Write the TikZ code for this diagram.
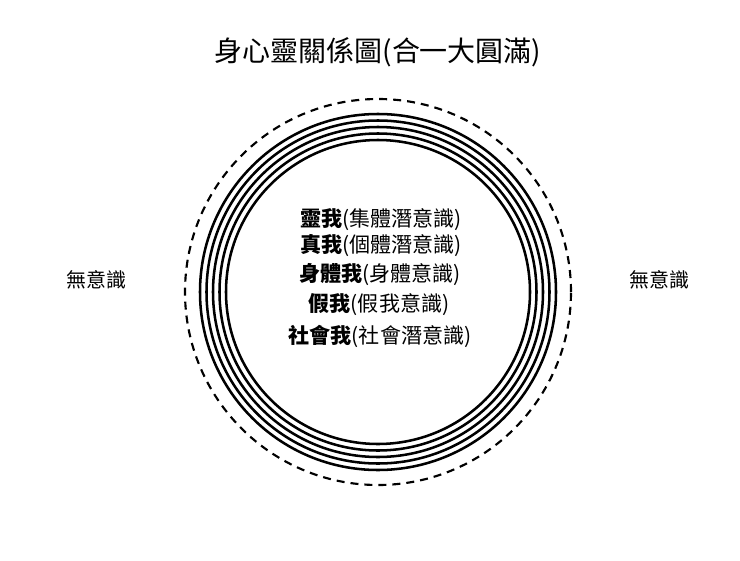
\documentclass[tikz,border=0pt]{standalone}
\usepackage{fontspec}
\setmainfont{Noto Sans CJK TC}
\newfontfamily\cjk{Noto Sans CJK TC}
\begin{document}
\begin{tikzpicture}[x=0.75pt,y=-0.75pt,
  ring/.style={line width=1.9pt},
  outerring/.style={line width=1.6pt, dash pattern=on 6pt off 4.5pt},
  titletext/.style={font=\cjk\fontsize{21}{24}\selectfont, inner sep=0pt},
  selftext/.style={font=\cjk\fontsize{15.8}{18}\selectfont, inner sep=0pt},
  sidetext/.style={font=\cjk\fontsize{15}{18}\selectfont, inner sep=0pt}]
\useasboundingbox (0,0) rectangle (740,561);
\coordinate (ctr) at (378,292);
\foreach \r in {152,158.5,165,171.5,178}{
  \draw[ring] (ctr) circle[radius=\r*0.75pt];
}
\draw[outerring] (ctr) circle[radius=193*0.75pt];
\node[titletext] (title) at (378,52) {身心靈關係圖(合一大圓滿)};
\node[selftext] (l1) at (381,220) {\textbf{靈我}(集體潛意識)};
\node[selftext] (l2) at (381,246) {\textbf{真我}(個體潛意識)};
\node[selftext] (l3) at (380,275) {\textbf{身體我}(身體意識)};
\node[selftext] (l4) at (379,305) {\textbf{假我}(假我意識)};
\node[selftext] (l5) at (380,336) {\textbf{社會我}(社會潛意識)};
\node[sidetext] (left) at (96,280) {無意識};
\node[sidetext] (right) at (659,280) {無意識};
\end{tikzpicture}
\end{document}
